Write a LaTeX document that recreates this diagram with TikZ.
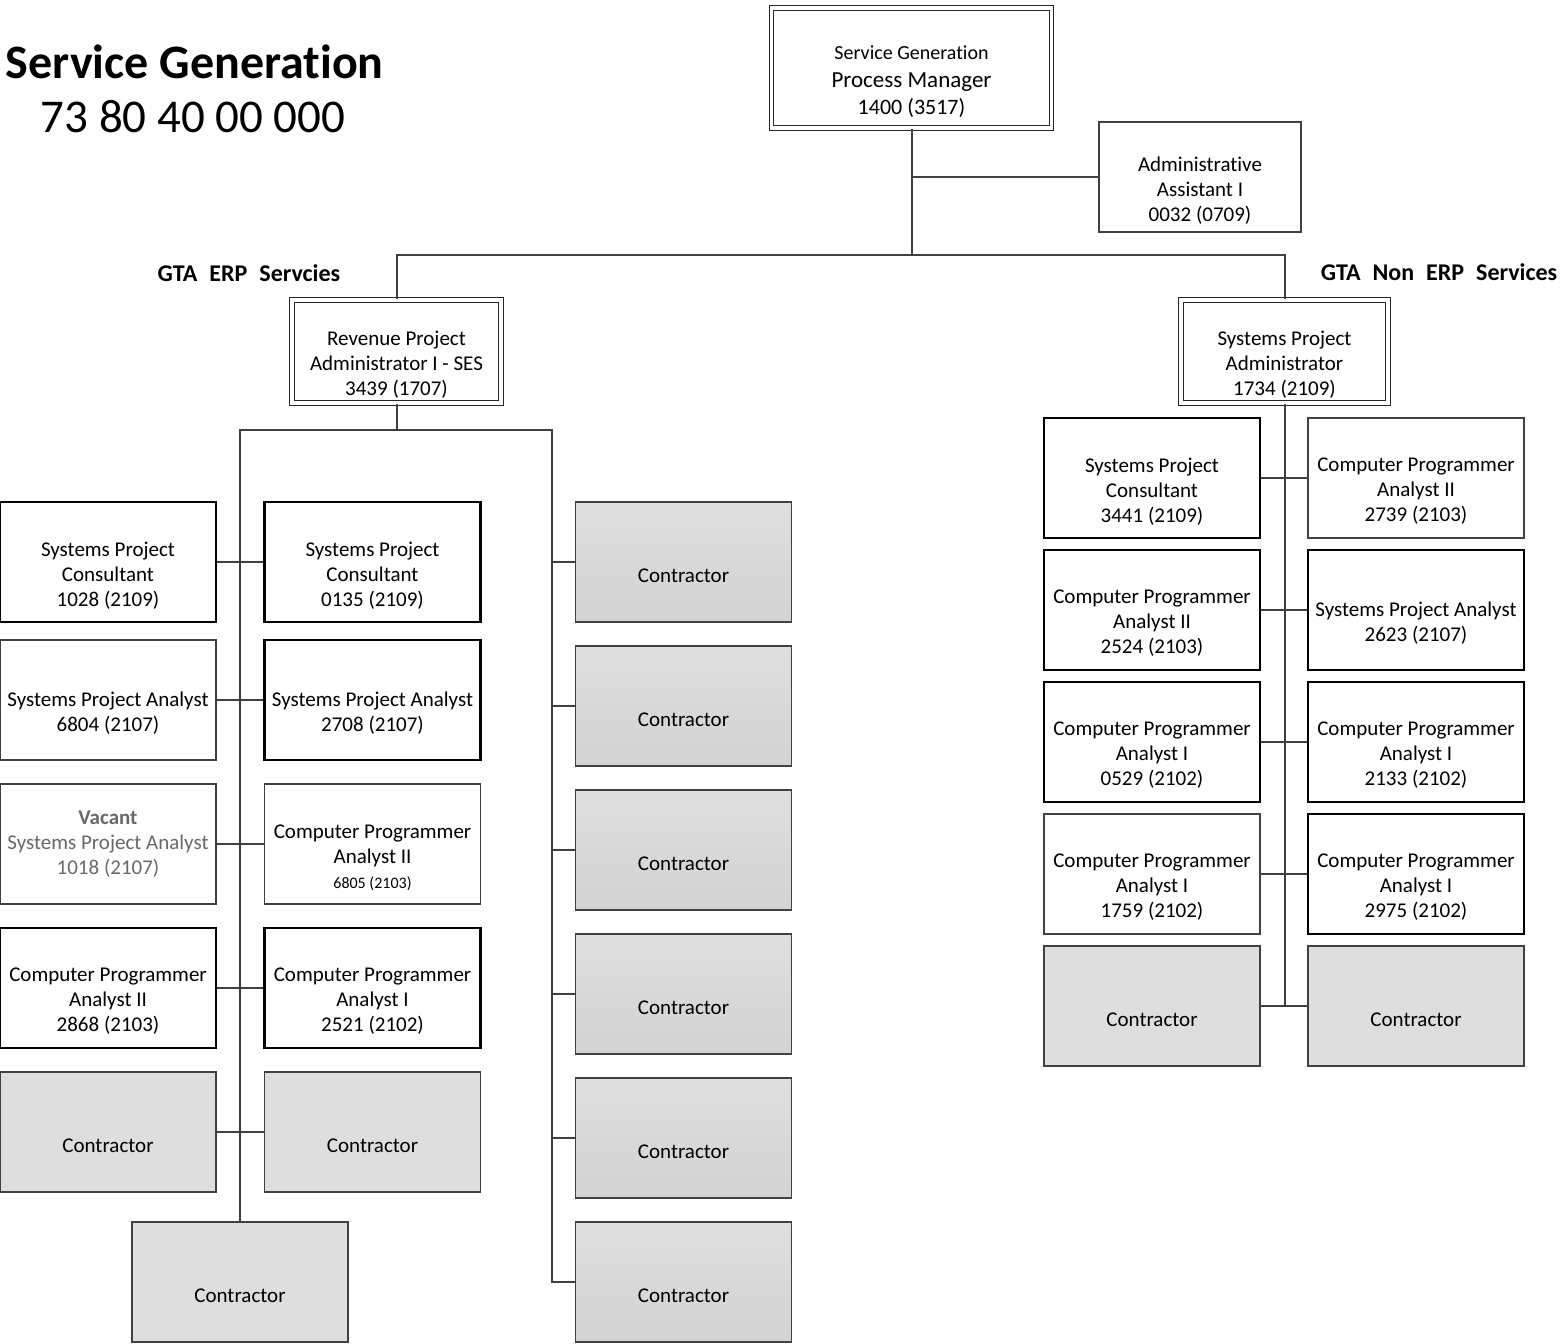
\documentclass[tikz,border=0pt]{standalone}
\usepackage{fontspec}
\setmainfont{Carlito}[Ligatures=NoCommon]

\definecolor{edge}{RGB}{64,64,64}
\definecolor{ctrfill}{RGB}{222,222,222}
\definecolor{ctrtop}{RGB}{223,223,223}
\definecolor{ctrbot}{RGB}{211,211,211}
\definecolor{vacgray}{RGB}{105,105,105}

\tikzset{every picture/.style={line width=0.75pt}}
\tikzset{
  box/.style={rectangle, draw=edge, line width=0.9pt, fill=white, minimum width=108pt, minimum height=60pt, inner sep=0pt},
  postlabel/.style={align=center, font=\fontsize{10.5}{12.5}\selectfont, yshift=-6.75pt, inner sep=0pt},
  post/.style={box, label={[postlabel]center:{#1}}},
  strong/.style={draw=black, line width=1.2pt},
  contractor/.style={post=Contractor, fill=ctrfill},
  deep/.style={top color=ctrtop, bottom color=ctrbot},
  head/.style={post={#1}, draw=black!85, line width=0.6pt, double, double distance=1.6pt},
  link/.style={draw=edge, line width=1pt},
  section/.style={font=\fontsize{12}{14}\selectfont\bfseries, inner sep=0pt},
}

\begin{document}
\begin{tikzpicture}[x=0.5pt,y=0.5pt,yscale=-1,xscale=1]
\useasboundingbox (0,0) rectangle (1564,1344);

% Text Node
\node[anchor=west, inner sep=0pt, font=\fontsize{24}{28}\selectfont\bfseries] (title) at (5,62) {Service Generation};
% Text Node
\node[inner sep=0pt, font=\fontsize{23.5}{28}\selectfont] (code) at (193,117) {73 80 40 00 000};

%Shape: Rectangle
\node[head={{\fontsize{10}{12}\selectfont Service Generation}\\[1.5pt]{\fontsize{11.5}{14}\selectfont Process Manager}\\[1pt]{\fontsize{11}{13}\selectfont 1400 (3517)}}, minimum width=140pt, minimum height=60pt] (pm) at (911.5,68) {};
%Shape: Rectangle
\node[post={Administrative\\Assistant I\\0032 (0709)}, minimum width=101pt, minimum height=55pt] (aa) at (1200,177) {};

% Text Node
\node[section] (erptag) at (249,273) {GTA\hspace{0.5em}ERP\hspace{0.5em}Servcies};
% Text Node
\node[section, anchor=east] (nerptag) at (1558,272) {GTA\hspace{0.5em}Non\hspace{0.5em}ERP\hspace{0.5em}Services};

%Shape: Rectangle
\node[head={Revenue Project\\Administrator I - SES\\3439 (1707)}, minimum width=104.5pt, minimum height=51.5pt] (erp) at (396.5,351.5) {};
%Shape: Rectangle
\node[head={Systems Project\\Administrator\\1734 (2109)}, minimum width=103.5pt, minimum height=51.5pt] (nerp) at (1284.5,351.5) {};

%ERP staff, two columns
\node[post={Systems Project\\Consultant\\1028 (2109)}, strong] (a1) at (108,562) {};
\node[post={Systems Project\\Consultant\\0135 (2109)}, strong] (b1) at (372.5,562) {};
\node[post={Systems Project Analyst\\6804 (2107)}] (a2) at (108,700) {};
\node[post={Systems Project Analyst\\2708 (2107)}, strong] (b2) at (372.5,700) {};
\node[box, label={[postlabel, yshift=6.75pt, text=vacgray]center:{\textbf{Vacant}\\Systems Project Analyst\\1018 (2107)}}] (a3) at (108,844) {};
\node[post={Computer Programmer\\Analyst II\\{\fontsize{8}{10}\selectfont 6805 (2103)}}] (b3) at (372.5,844) {};
\node[post={Computer Programmer\\Analyst II\\2868 (2103)}, strong] (a4) at (108,988) {};
\node[post={Computer Programmer\\Analyst I\\2521 (2102)}, strong] (b4) at (372.5,988) {};
\node[contractor] (a5) at (108,1132) {};
\node[contractor] (b5) at (372.5,1132) {};
\node[contractor] (c0) at (240,1282) {};

%ERP contractors
\node[contractor, deep] (k1) at (683.5,562) {};
\node[contractor, deep] (k2) at (683.5,706) {};
\node[contractor, deep] (k3) at (683.5,850) {};
\node[contractor, deep] (k4) at (683.5,994) {};
\node[contractor, deep] (k5) at (683.5,1138) {};
\node[contractor, deep] (k6) at (683.5,1282) {};

%Non ERP staff
\node[post={Systems Project\\Consultant\\3441 (2109)}, strong] (r1) at (1152,478) {};
\node[post={Computer Programmer\\Analyst II\\2739 (2103)}] (s1) at (1416,478) {};
\node[post={Computer Programmer\\Analyst II\\2524 (2103)}, strong] (r2) at (1152,610) {};
\node[post={Systems Project Analyst\\2623 (2107)}, strong] (s2) at (1416,610) {};
\node[post={Computer Programmer\\Analyst I\\0529 (2102)}, strong] (r3) at (1152,742) {};
\node[post={Computer Programmer\\Analyst I\\2133 (2102)}, strong] (s3) at (1416,742) {};
\node[post={Computer Programmer\\Analyst I\\1759 (2102)}] (r4) at (1152,874) {};
\node[post={Computer Programmer\\Analyst I\\2975 (2102)}, strong] (s4) at (1416,874) {};
\node[contractor] (r5) at (1152,1006) {};
\node[contractor] (s5) at (1416,1006) {};

%Connectors
\coordinate (split) at (911.5,255);
\coordinate (lbl) at (240,430);
\coordinate (lbr) at (552,430);
\draw[link] (pm.south) -- (split);
\draw[link] (aa.west) -- (aa.west -| pm.south);
\draw[link] (erp.north) |- (split) -| (nerp.north);
\draw[link] (erp.south) -- (erp.south |- lbl);
\draw[link] (c0.north) |- (lbr) -- (k6.west -| lbr) -- (k6.west);
\foreach \p/\q in {a1/b1,a2/b2,a3/b3,a4/b4,a5/b5}
  \draw[link] (\p.east) -- (\q.west);
\foreach \k in {k1,k2,k3,k4,k5}
  \draw[link] (\k.west) -- (\k.west -| lbr);
\draw[link] (nerp.south) -- (nerp.south |- r5.east);
\foreach \p/\q in {r1/s1,r2/s2,r3/s3,r4/s4,r5/s5}
  \draw[link] (\p.east) -- (\q.west);

\end{tikzpicture}
\end{document}
